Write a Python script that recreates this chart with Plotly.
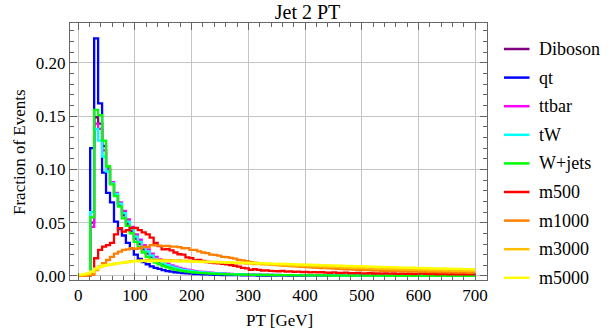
import plotly.graph_objects as go

# bin layout: 7 GeV wide bins from 0 to 700 GeV
bin_width = 7
n_bins = 100
bin_edges = [bin_width * i for i in range(n_bins + 1)]

series_names = ["Diboson", "qt", "ttbar", "tW", "W+jets", "m500", "m1000", "m3000", "m5000"]
series_colors = ["#800080", "#0000ff", "#ff00ff", "#00ffff", "#00ff00",
                 "#ff0000", "#ff8000", "#ffbf00", "#ffff00"]

diboson = [
    0, 0, 0, 0.050, 0.149, 0.143, 0.122, 0.101, 0.087, 0.076,
    0.066, 0.057, 0.049, 0.042, 0.035, 0.030, 0.025, 0.021, 0.018, 0.015,
    0.013, 0.011, 0.0096, 0.0083, 0.0072, 0.0063, 0.0055, 0.0048, 0.0043, 0.0038,
    0.0034, 0.0031, 0.0028, 0.0025, 0.0023, 0.0021, 0.0019, 0.0018, 0.0016, 0.0015,
    0.0014, 0.0013, 0.0012, 0.0012, 0.0011, 0.0010, 0.0010, 0.0009, 0.0009, 0.0008,
    0.0008, 0.0007, 0.0007, 0.0007, 0.0006, 0.0006, 0.0006, 0.0005, 0.0005, 0.0005,
    0.0005, 0.0004, 0.0004, 0.0004, 0.0004, 0.0004, 0.0003, 0.0003, 0.0003, 0.0003,
    0.0003, 0.0003, 0.0003, 0.0002, 0.0002, 0.0002, 0.0002, 0.0002, 0.0002, 0.0002,
    0.0002, 0.0002, 0.0002, 0.0002, 0.0001, 0.0001, 0.0001, 0.0001, 0.0001, 0.0001,
    0.0001, 0.0001, 0.0001, 0.0001, 0.0001, 0.0001, 0.0001, 0.0001, 0.0001, 0.0001,
]

qt = [
    0, 0, 0, 0.120, 0.223, 0.162, 0.097, 0.078, 0.069, 0.051,
    0.044, 0.038, 0.031, 0.026, 0.020, 0.016, 0.013, 0.011, 0.0090, 0.0075,
    0.0066, 0.0055, 0.0046, 0.0041, 0.0035, 0.0031, 0.0027, 0.0024, 0.0021, 0.0018,
    0.0017, 0.0015, 0.0014, 0.0012, 0.0011, 0.0010, 0.0009, 0.0009, 0.0008, 0.0007,
    0.0007, 0.0006, 0.0006, 0.0005, 0.0005, 0.0004, 0.0004, 0.0004, 0.0003, 0.0003,
    0.0003, 0.0003, 0.0003, 0.0002, 0.0002, 0.0002, 0.0002, 0.0002, 0.0002, 0.0002,
    0.0002, 0.0001, 0.0001, 0.0001, 0.0001, 0.0001, 0.0001, 0.0001, 0.0001, 0.0001,
    0.0001, 0.0001, 0.0001, 0.0001, 0.0001, 0.0001, 0.0001, 0.0001, 0.0001, 0.0001,
    0.0001, 0.0001, 0.0001, 0.0001, 0.0001, 0.0001, 0.0001, 0.0001, 0.0001, 0.0001,
    0.0001, 0.0001, 0.0001, 0.0001, 0.0001, 0.0001, 0.0001, 0.0001, 0.0001, 0.0001,
]

ttbar = [
    0, 0, 0, 0.046, 0.143, 0.138, 0.118, 0.100, 0.088, 0.078,
    0.069, 0.061, 0.053, 0.046, 0.039, 0.034, 0.029, 0.025, 0.021, 0.018,
    0.0155, 0.0133, 0.0115, 0.0100, 0.0087, 0.0076, 0.0067, 0.0059, 0.0052, 0.0046,
    0.0041, 0.0037, 0.0033, 0.0030, 0.0027, 0.0025, 0.0023, 0.0021, 0.0019, 0.0018,
    0.0016, 0.0015, 0.0014, 0.0013, 0.0012, 0.0012, 0.0011, 0.0010, 0.0010, 0.0009,
    0.0009, 0.0008, 0.0008, 0.0007, 0.0007, 0.0007, 0.0006, 0.0006, 0.0006, 0.0005,
    0.0005, 0.0005, 0.0005, 0.0004, 0.0004, 0.0004, 0.0004, 0.0004, 0.0003, 0.0003,
    0.0003, 0.0003, 0.0003, 0.0003, 0.0003, 0.0002, 0.0002, 0.0002, 0.0002, 0.0002,
    0.0002, 0.0002, 0.0002, 0.0002, 0.0002, 0.0002, 0.0001, 0.0001, 0.0001, 0.0001,
    0.0001, 0.0001, 0.0001, 0.0001, 0.0001, 0.0001, 0.0001, 0.0001, 0.0001, 0.0001,
]

tw = [
    0, 0, 0, 0.060, 0.138, 0.127, 0.112, 0.098, 0.087, 0.077,
    0.068, 0.059, 0.051, 0.044, 0.037, 0.032, 0.027, 0.023, 0.019, 0.016,
    0.0138, 0.0118, 0.0101, 0.0087, 0.0076, 0.0066, 0.0058, 0.0051, 0.0045, 0.0040,
    0.0036, 0.0033, 0.0030, 0.0027, 0.0025, 0.0023, 0.0021, 0.0019, 0.0018, 0.0017,
    0.0016, 0.0015, 0.0014, 0.0013, 0.0012, 0.0012, 0.0011, 0.0010, 0.0010, 0.0009,
    0.0009, 0.0008, 0.0008, 0.0008, 0.0007, 0.0007, 0.0007, 0.0006, 0.0006, 0.0006,
    0.0005, 0.0005, 0.0005, 0.0005, 0.0004, 0.0004, 0.0004, 0.0004, 0.0004, 0.0003,
    0.0003, 0.0003, 0.0003, 0.0003, 0.0003, 0.0003, 0.0002, 0.0002, 0.0002, 0.0002,
    0.0002, 0.0002, 0.0002, 0.0002, 0.0002, 0.0002, 0.0002, 0.0001, 0.0001, 0.0001,
    0.0001, 0.0001, 0.0001, 0.0001, 0.0001, 0.0001, 0.0001, 0.0001, 0.0001, 0.0001,
]

wjets = [
    0, 0, 0, 0.055, 0.156, 0.151, 0.127, 0.103, 0.086, 0.075,
    0.065, 0.054, 0.047, 0.040, 0.032, 0.027, 0.022, 0.018, 0.015, 0.0125,
    0.0108, 0.0093, 0.0080, 0.0069, 0.0060, 0.0052, 0.0046, 0.0041, 0.0036, 0.0032,
    0.0029, 0.0026, 0.0024, 0.0022, 0.0020, 0.0018, 0.0017, 0.0016, 0.0015, 0.0014,
    0.0013, 0.0012, 0.0012, 0.0011, 0.0010, 0.0010, 0.0009, 0.0009, 0.0008, 0.0008,
    0.0008, 0.0007, 0.0007, 0.0007, 0.0006, 0.0006, 0.0006, 0.0006, 0.0005, 0.0005,
    0.0005, 0.0005, 0.0005, 0.0004, 0.0004, 0.0004, 0.0004, 0.0004, 0.0004, 0.0003,
    0.0003, 0.0003, 0.0003, 0.0003, 0.0003, 0.0003, 0.0003, 0.0003, 0.0002, 0.0002,
    0.0002, 0.0002, 0.0002, 0.0002, 0.0002, 0.0002, 0.0002, 0.0002, 0.0002, 0.0002,
    0.0002, 0.0002, 0.0001, 0.0001, 0.0001, 0.0001, 0.0001, 0.0001, 0.0001, 0.0001,
]

m500 = [
    0, 0, 0, 0.002, 0.0166, 0.0245, 0.0275, 0.029, 0.031, 0.039,
    0.0449, 0.0417, 0.043, 0.0449, 0.045, 0.043, 0.041, 0.039, 0.036, 0.031,
    0.028, 0.025, 0.0252, 0.024, 0.022, 0.0204, 0.0201, 0.0174, 0.0168, 0.0147,
    0.0151, 0.0142, 0.0131, 0.0125, 0.0121, 0.0118, 0.0113, 0.0109, 0.0103, 0.0096,
    0.0087, 0.0076, 0.0071, 0.0057, 0.0063, 0.0058, 0.0051, 0.0053, 0.0048, 0.0046,
    0.0044, 0.0047, 0.0041, 0.0043, 0.0038, 0.0040, 0.0036, 0.0039, 0.0034, 0.0036,
    0.0033, 0.0035, 0.0031, 0.0030, 0.0033, 0.0029, 0.0028, 0.0031, 0.0027, 0.0026,
    0.0029, 0.0025, 0.0024, 0.0027, 0.0023, 0.0025, 0.0022, 0.0024, 0.0021, 0.0023,
    0.0020, 0.0022, 0.0019, 0.0021, 0.0018, 0.0020, 0.0024, 0.0019, 0.0017, 0.0019,
    0.0016, 0.0018, 0.0017, 0.0015, 0.0017, 0.0016, 0.0014, 0.0016, 0.0015, 0.0014,
]

m1000 = [
    0, 0, 0, 0.001, 0.0056, 0.009, 0.012, 0.015, 0.018, 0.021,
    0.0228, 0.0244, 0.025, 0.026, 0.0255, 0.026, 0.0275, 0.0272, 0.029, 0.0288,
    0.0284, 0.028, 0.0282, 0.0275, 0.0276, 0.027, 0.026, 0.0262, 0.0245, 0.0244,
    0.023, 0.022, 0.0215, 0.020, 0.0197, 0.019, 0.018, 0.0176, 0.017, 0.0162,
    0.015, 0.0146, 0.014, 0.013, 0.0126, 0.012, 0.0116, 0.0112, 0.0109, 0.0104,
    0.0101, 0.0098, 0.0096, 0.0093, 0.0091, 0.0088, 0.0086, 0.0084, 0.0081, 0.0079,
    0.0077, 0.0074, 0.0073, 0.0071, 0.0068, 0.0067, 0.0065, 0.0062, 0.0063, 0.0059,
    0.0058, 0.0056, 0.0055, 0.0054, 0.0051, 0.0052, 0.0049, 0.0048, 0.0047, 0.0045,
    0.0046, 0.0043, 0.0044, 0.0041, 0.0040, 0.0041, 0.0038, 0.0039, 0.0037, 0.0036,
    0.0037, 0.0035, 0.0034, 0.0035, 0.0033, 0.0032, 0.0033, 0.0031, 0.0030, 0.0031,
]

m3000 = [
    0.0008, 0.0012, 0.0020, 0.0035, 0.0062, 0.0082, 0.0095, 0.0102, 0.0108, 0.0115,
    0.0121, 0.0126, 0.0131, 0.0138, 0.0142, 0.0146, 0.0144, 0.0150, 0.0147, 0.0152,
    0.0149, 0.0151, 0.0146, 0.0148, 0.0143, 0.0145, 0.0141, 0.0143, 0.0138, 0.0140,
    0.0135, 0.0137, 0.0133, 0.0132, 0.0129, 0.0131, 0.0126, 0.0127, 0.0124, 0.0123,
    0.0119, 0.0121, 0.0117, 0.0116, 0.0112, 0.0114, 0.0110, 0.0109, 0.0106, 0.0107,
    0.0102, 0.0104, 0.0100, 0.0099, 0.0096, 0.0098, 0.0093, 0.0094, 0.0091, 0.0090,
    0.0087, 0.0089, 0.0084, 0.0086, 0.0082, 0.0083, 0.0079, 0.0081, 0.0076, 0.0078,
    0.0074, 0.0075, 0.0071, 0.0073, 0.0068, 0.0070, 0.0067, 0.0066, 0.0064, 0.0065,
    0.0061, 0.0063, 0.0060, 0.0059, 0.0057, 0.0058, 0.0055, 0.0057, 0.0053, 0.0055,
    0.0052, 0.0053, 0.0050, 0.0052, 0.0049, 0.0050, 0.0047, 0.0049, 0.0046, 0.0048,
]

m5000 = [
    0.0012, 0.0015, 0.0025, 0.0042, 0.0068, 0.0088, 0.0098, 0.0104, 0.0110, 0.0117,
    0.0122, 0.0127, 0.0131, 0.0135, 0.0139, 0.0137, 0.0141, 0.0138, 0.0142, 0.0139,
    0.0141, 0.0137, 0.0140, 0.0136, 0.0139, 0.0135, 0.0137, 0.0134, 0.0136, 0.0133,
    0.0135, 0.0131, 0.0133, 0.0129, 0.0131, 0.0127, 0.0130, 0.0126, 0.0128, 0.0124,
    0.0126, 0.0122, 0.0124, 0.0120, 0.0122, 0.0118, 0.0120, 0.0116, 0.0118, 0.0114,
    0.0116, 0.0112, 0.0113, 0.0110, 0.0111, 0.0107, 0.0109, 0.0105, 0.0107, 0.0103,
    0.0104, 0.0100, 0.0102, 0.0098, 0.0099, 0.0096, 0.0097, 0.0093, 0.0095, 0.0091,
    0.0092, 0.0089, 0.0090, 0.0087, 0.0088, 0.0084, 0.0086, 0.0082, 0.0083, 0.0080,
    0.0081, 0.0078, 0.0079, 0.0076, 0.0077, 0.0074, 0.0075, 0.0072, 0.0073, 0.0070,
    0.0071, 0.0069, 0.0070, 0.0067, 0.0068, 0.0066, 0.0067, 0.0064, 0.0065, 0.0063,
]

all_series = [diboson, qt, ttbar, tw, wjets, m500, m1000, m3000, m5000]

FONT = "Liberation Serif"
W, H = 615, 331
L, R, T, B = 70, 128, 23, 51
PW, PH = W - L - R, H - T - B


def px_x(px):
    return (px - L) / PW


def px_y(py):
    return (H - B - py) / PH


fig = go.Figure()

for name, color, vals in zip(series_names, series_colors, all_series):
    fig.add_trace(
        go.Scatter(
            x=bin_edges,
            y=vals + [vals[-1]],
            mode="lines",
            line=dict(color=color, width=2.3, shape="hv"),
            name=name,
            showlegend=False,
            hoverinfo="skip"
        )
    )

# hand-drawn legend to match the reference spacing
legend_top = 49
legend_step = 28.6
for k, (name, color) in enumerate(zip(series_names, series_colors)):
    ly = legend_top + k * legend_step
    fig.add_shape(
        type="line",
        xref="paper", yref="paper",
        x0=px_x(504), x1=px_x(529.5),
        y0=px_y(ly), y1=px_y(ly),
        line=dict(color=color, width=2.5)
    )
    fig.add_annotation(
        xref="paper", yref="paper",
        x=px_x(537), y=px_y(ly),
        text=name,
        showarrow=False,
        xanchor="left", yanchor="middle",
        font=dict(family=FONT, size=18, color="black")
    )

fig.add_annotation(
    xref="paper", yref="paper",
    x=px_x(279), y=px_y(320),
    text="PT [GeV]",
    showarrow=False,
    xanchor="center", yanchor="middle",
    font=dict(family=FONT, size=17, color="black")
)
fig.add_annotation(
    xref="paper", yref="paper",
    x=px_x(19), y=px_y(152),
    text="Fraction of Events",
    textangle=-90,
    showarrow=False,
    xanchor="center", yanchor="middle",
    font=dict(family=FONT, size=17, color="black")
)

axis_style = dict(
    showline=True,
    linecolor="#666666",
    linewidth=1,
    mirror="allticks",
    ticks="inside",
    ticklen=7,
    tickwidth=1,
    tickcolor="#666666",
    showgrid=True,
    gridcolor="#c4c4c4",
    gridwidth=1.2,
    zeroline=False,
    tickfont=dict(family=FONT, size=17, color="black"),
)

fig.update_xaxes(
    range=[-14.6, 721],
    tickmode="linear", tick0=0, dtick=100,
    minor=dict(ticks="inside", ticklen=4, dtick=20, tickcolor="#666666", showgrid=False),
    **axis_style
)
fig.update_yaxes(
    range=[-0.0038, 0.2375],
    tickmode="linear", tick0=0, dtick=0.05,
    tickformat=".2f",
    minor=dict(ticks="inside", ticklen=4, dtick=0.01, tickcolor="#666666", showgrid=False),
    **axis_style
)

fig.update_layout(
    width=W,
    height=H,
    margin=dict(l=L, r=R, t=T, b=B),
    plot_bgcolor="white",
    paper_bgcolor="white",
    title=dict(
        text="Jet 2 PT",
        x=0.5, xref="container",
        y=1 - 12 / H, yref="container",
        xanchor="center", yanchor="middle",
        font=dict(family=FONT, size=20, color="black")
    ),
)

# drop the browser's default page margin so the figure sits at the window corner
fig.write_html(
    "out.html",
    config={"displayModeBar": False},
    post_script="document.body.style.margin='0';"
)
